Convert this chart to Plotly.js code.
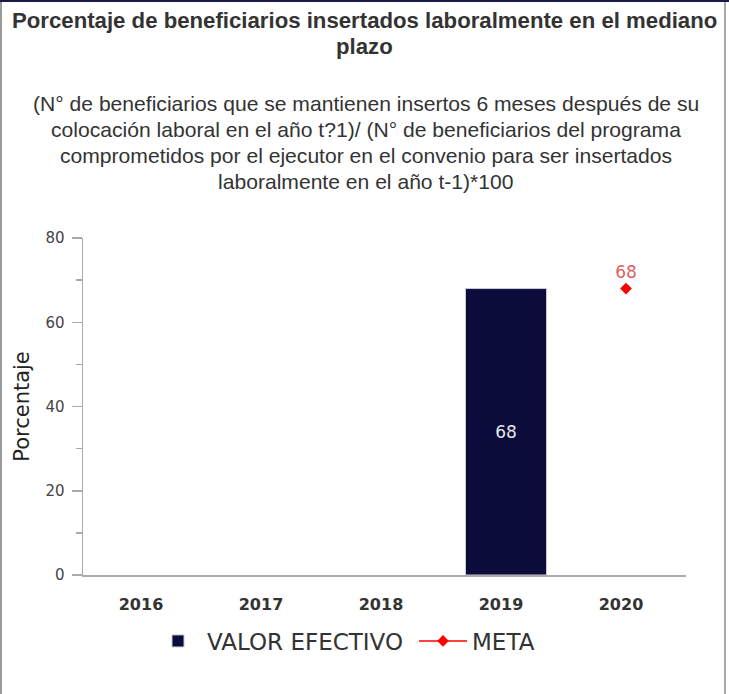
<!DOCTYPE html>
<html>
<head>
<meta charset="utf-8">
<script src="https://cdn.plot.ly/plotly-3.0.1.min.js"></script>
<style>
  html, body { margin: 0; padding: 0; background: #fff; }
  #wrap { position: relative; width: 729px; height: 694px; overflow: hidden; }
  #chart { position: absolute; left: 0; top: 0; width: 729px; height: 694px; }
  .b { position: absolute; pointer-events: none; }
</style>
</head>
<body>
<div id="wrap">
  <div id="chart"></div>
  <div class="b" style="left:0;top:0;width:729px;height:2px;background:#1a1a4a;"></div>
  <div class="b" style="left:0;top:2px;width:2px;height:692px;background:#9a9a9a;"></div>
  <div class="b" style="left:724px;top:2px;width:2px;height:692px;background:#a8a8a8;"></div>
</div>
<script>
const years = ['2016', '2017', '2018', '2019', '2020'];
const valorEfectivo = [null, null, null, 68, null];
const meta = [null, null, null, null, 68];
const titleLines = [
  'Porcentaje de beneficiarios insertados laboralmente en el mediano',
  'plazo'
];
const subtitleLines = [
  '(N° de beneficiarios que se mantienen insertos 6 meses después de su',
  'colocación laboral en el año t?1)/ (N° de beneficiarios del programa',
  'comprometidos por el ejecutor en el convenio para ser insertados',
  'laboralmente en el año t-1)*100'
];
const yTickVals = [0, 20, 40, 60, 80];
const seriesNames = ['VALOR EFECTIVO', 'META'];

const W = 729, H = 694, T = 238, B = 119, L = 83, R = 43;
const plotH = H - T - B, plotW = W - L - R;
function py(pix) { return (H - B - pix) / plotH; }
function px(pix) { return (pix - L) / plotW; }

const annotations = [];
const titleY = [20, 46];
titleLines.forEach((t, i) => annotations.push({
  text: '<b>' + t + '</b>', xref: 'paper', yref: 'paper', x: px(364), y: py(titleY[i]),
  xanchor: 'center', yanchor: 'middle', showarrow: false,
  font: { family: 'Liberation Sans, Arial, sans-serif', size: 22.2, color: '#333' }
}));
const subY = [103, 129, 155, 181];
subtitleLines.forEach((t, i) => annotations.push({
  text: t, xref: 'paper', yref: 'paper', x: px(366), y: py(subY[i]),
  xanchor: 'center', yanchor: 'middle', showarrow: false,
  font: { family: 'Liberation Sans, Arial, sans-serif', size: 21.1, color: '#333' }
}));

const traces = [
  {
    type: 'bar', x: years, y: valorEfectivo, name: seriesNames[0],
    marker: { color: '#0b0c3c', line: { color: '#c8c8d0', width: 1 } },
    width: 0.675,
    text: valorEfectivo.map(v => v == null ? '' : String(v)),
    textposition: 'inside', insidetextanchor: 'middle',
    textfont: { family: 'DejaVu Sans, sans-serif', size: 17, color: '#e6e6e6' },
    hoverinfo: 'none'
  },
  {
    type: 'scatter', mode: 'lines+markers+text', x: years, y: meta, name: seriesNames[1],
    line: { color: '#ff0000', width: 1.5 },
    marker: { symbol: 'diamond', size: 9, color: '#ff0000' },
    text: meta.map(v => v == null ? '' : String(v)),
    textposition: 'top center',
    textfont: { family: 'DejaVu Sans, sans-serif', size: 17, color: '#e06060' },
    hoverinfo: 'none', cliponaxis: false
  }
];

const layout = {
  width: W, height: H,
  margin: { l: L, r: R, t: T, b: B, pad: 0 },
  paper_bgcolor: '#fff', plot_bgcolor: '#fff',
  showlegend: true,
  legend: {
    orientation: 'h', x: px(149), xanchor: 'left', y: py(641), yanchor: 'middle',
    entrywidth: 202, entrywidthmode: 'pixels', itemwidth: 48,
    font: { family: 'DejaVu Sans, sans-serif', size: 23, color: '#333' },
    bgcolor: 'rgba(0,0,0,0)'
  },
  xaxis: {
    type: 'category', range: [-0.525, 4.5], showgrid: false, zeroline: false,
    showline: true, linecolor: '#aaa', linewidth: 1.5, ticks: '',
    tickfont: { family: 'DejaVu Sans, sans-serif', size: 16, color: '#333', weight: 'bold' },
    ticklabelstandoff: 14, ticklabelshift: -5, fixedrange: true
  },
  yaxis: {
    range: [0, 80], showgrid: false, zeroline: false,
    showline: true, linecolor: '#aaa', linewidth: 1.5,
    tickvals: yTickVals, ticks: 'outside', ticklen: 10, tickcolor: '#aaa', tickwidth: 1.5,
    minor: { dtick: 10, ticks: 'outside', ticklen: 6, tickcolor: '#aaa', tickwidth: 1.5, showgrid: false },
    tickfont: { family: 'DejaVu Sans, sans-serif', size: 15, color: '#444' },
    ticklabelstandoff: 4,
    title: { text: 'Porcentaje', font: { family: 'DejaVu Sans, sans-serif', size: 21, color: '#222' }, standoff: 10 },
    fixedrange: true
  },
  annotations: annotations
};

Plotly.newPlot('chart', traces, layout, { displayModeBar: false, staticPlot: true });
</script>
</body>
</html>
